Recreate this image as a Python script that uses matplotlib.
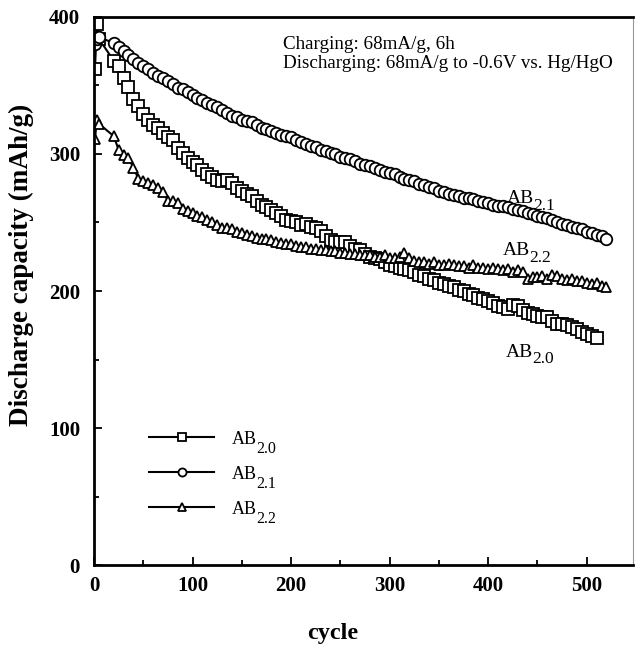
import matplotlib
matplotlib.use("Agg")
import matplotlib.pyplot as plt
from matplotlib.ticker import MultipleLocator

plt.rcParams["font.family"] = ["Liberation Serif", "DejaVu Serif"]

# -------------------------------
# Data
# -------------------------------
cycles_21 = [1, 3, 5] + list(range(20, 525, 5))
cycles_20 = [1, 3, 5] + list(range(20, 515, 5))
cycles_22 = [1, 3, 5] + list(range(20, 525, 5))

ab20 = [362, 395, 384,
        368, 364, 355, 349, 340, 335, 329, 325, 321, 319, 315, 312, 310, 304, 301, 297,
        294, 292, 288, 285, 283, 281, 280, 281, 279, 275, 273, 271, 269, 266, 263, 261,
        259, 257, 255, 252, 251, 250, 248, 249, 247, 246, 244, 240, 237, 236, 236, 236,
        233, 231, 230, 227, 225, 224, 223, 221, 219, 218, 217, 216, 215, 214, 212, 211,
        209, 208, 206, 205, 204, 203, 201, 200, 198, 197, 195, 194, 193, 191, 189, 188,
        187, 190, 189, 186, 184, 183, 182, 181, 181, 178, 176, 176, 175, 174, 172, 170,
        169, 167, 166]

ab21 = [380, 384, 385,
        381, 378, 375, 372, 369, 366, 364, 362, 359, 357, 355, 353, 351, 348, 347, 345,
        343, 341, 339, 337, 336, 334, 332, 330, 328, 327, 325, 324, 323, 321, 319, 318,
        317, 315, 314, 313, 312, 310, 309, 307, 306, 305, 303, 302, 301, 300, 298, 297,
        296, 295, 293, 292, 291, 290, 288, 287, 286, 285, 283, 282, 281, 280, 278, 277,
        276, 275, 273, 272, 271, 270, 269, 268, 268, 267, 266, 265, 264, 263, 262, 262,
        261, 260, 259, 258, 257, 256, 255, 254, 253, 252, 250, 249, 248, 247, 246, 245,
        243, 242, 241, 240, 238]

ab22 = [311, 325, 322,
        313, 303, 299, 297, 290, 282, 280, 279, 277, 275, 272, 266, 266, 264, 260, 258,
        257, 255, 254, 252, 250, 248, 246, 246, 245, 243, 242, 241, 240, 239, 238, 238,
        237, 236, 235, 234, 234, 233, 232, 232, 231, 231, 230, 230, 229, 229, 228, 228,
        227, 227, 226, 226, 226, 225, 225, 226, 224, 224, 225, 228, 224, 222, 221, 221,
        220, 221, 219, 219, 220, 219, 218, 218, 217, 219, 217, 217, 216, 217, 216, 215,
        216, 214, 215, 214, 209, 210, 210, 211, 209, 212, 211, 209, 208, 209, 207, 207,
        206, 205, 206, 204, 203]

subs = ["2.0", "2.1", "2.2"]

# -------------------------------
# Plot
# -------------------------------
fig = plt.figure(figsize=(6.35, 6.46), dpi=100)
ax = fig.add_axes([0.148, 0.125, 0.849, 0.849])

style = dict(color="black", lw=1.5, mfc="white", mec="black", mew=1.3)
ax.plot(cycles_20, ab20, marker="s", ms=8, label="AB", **style)
ax.plot(cycles_21, ab21, marker="o", ms=8.3, label="AB", **style)
ax.plot(cycles_22, ab22, marker="^", ms=7.8, label="AB", **style)

ax.set_xlim(0, 547)
ax.set_ylim(0, 400)
ax.xaxis.set_major_locator(MultipleLocator(100))
ax.xaxis.set_minor_locator(MultipleLocator(50))
ax.yaxis.set_major_locator(MultipleLocator(100))
ax.yaxis.set_minor_locator(MultipleLocator(50))
ax.tick_params(which="both", direction="in", width=1.3, top=False, right=False)
ax.tick_params(which="major", length=6, labelsize=15)
ax.tick_params(axis="y", which="major", pad=10)
ax.tick_params(axis="x", which="major", pad=8)
ax.tick_params(which="minor", length=3.5)
for lab in ax.get_xticklabels() + ax.get_yticklabels():
    lab.set_fontweight("bold")

for side in ["left", "bottom", "top"]:
    ax.spines[side].set_linewidth(2)
ax.spines["right"].set_linewidth(0.8)
ax.spines["right"].set_color("#999999")

ax.set_xlabel("cycle", fontsize=17.5, fontweight="bold")
ax.xaxis.set_label_coords(0.443, -0.105)
ax.set_ylabel("Discharge capacity (mAh/g)", fontsize=19.5, fontweight="bold")
ax.yaxis.set_label_coords(-0.112, 0.547)

ax.text(0.35, 0.965, "Charging: 68mA/g, 6h\nDischarging: 68mA/g to -0.6V vs. Hg/HgO",
        transform=ax.transAxes, fontsize=13.7, va="top", ha="left", linespacing=1.12)

# series labels: "AB" plus a lowered subscript
lab_pos = [(418, 152), (419, 264), (415, 226)]
main_txt = []
for (x, y) in lab_pos:
    main_txt.append(ax.text(x, y, "AB", fontsize=14))

leg = ax.legend(loc="upper left", bbox_to_anchor=(0.072, 0.275), frameon=False,
                numpoints=1, handlelength=3.6, labelspacing=1.0, markerscale=0.7,
                fontsize=13, handletextpad=1.0)

fig.canvas.draw()
renderer = fig.canvas.get_renderer()

for t, (x, y), s in zip(main_txt, lab_pos, subs):
    bb = t.get_window_extent(renderer)
    w_pt = (bb.width - 1) * 72 / fig.dpi
    ax.annotate(s, xy=(x, y), xycoords="data", xytext=(w_pt, -4.5),
                textcoords="offset points", fontsize=12.5)

for t, s in zip(leg.get_texts(), subs):
    bb = t.get_window_extent(renderer)
    _, _, d = renderer.get_text_width_height_descent("AB", t.get_fontproperties(), ismath=False)
    fig.text((bb.x1 - 1) / fig.bbox.width, (bb.y0 + d - 5) / fig.bbox.height, s,
             fontsize=11.5, va="baseline")

fig.savefig("out.png", dpi=100)
